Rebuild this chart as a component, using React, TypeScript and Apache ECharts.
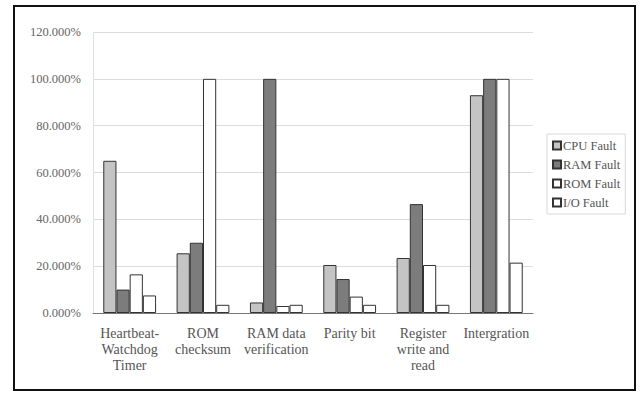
import React, { useEffect, useRef } from "react";
import * as echarts from "echarts";

const categories = [
  "Heartbeat-\nWatchdog\nTimer",
  "ROM\nchecksum",
  "RAM data\nverification",
  "Parity bit",
  "Register\nwrite and\nread",
  "Intergration",
];
const seriesNames = ["CPU Fault", "RAM Fault", "ROM Fault", "I/O Fault"];
const cpuFault = [65, 25.5, 4.5, 20.5, 23.5, 93];
const ramFault = [10, 30, 100, 14.5, 46.5, 100];
const romFault = [16.5, 100, 3, 7, 20.5, 100];
const ioFault = [7.5, 3.5, 3.5, 3.5, 3.5, 21.5];
const yTicks = [0, 20, 40, 60, 80, 100, 120];

const colors = ["#c4c4c4", "#7c7c7c", "#ffffff", "#ffffff"];
const font = "'Liberation Serif', 'Times New Roman', serif";

export default function App() {
  const ref = useRef<HTMLDivElement>(null);
  useEffect(() => {
    if (!ref.current) return;
    const chart = echarts.init(ref.current, null, { renderer: "svg" });
    const values = [cpuFault, ramFault, romFault, ioFault];
    chart.setOption({
      animation: false,
      backgroundColor: "#ffffff",
      graphic: [
        {
          type: "rect",
          shape: { x: 14, y: 6, width: 621, height: 384 },
          style: { fill: "none", stroke: "#111", lineWidth: 2 },
          silent: true,
        },
      ],
      grid: { left: 93, right: 108, top: 32, bottom: 80 },
      legend: {
        orient: "vertical",
        left: 547,
        top: 134,
        width: 80,
        itemWidth: 8,
        itemHeight: 8,
        itemGap: 6,
        padding: [5, 5, 5, 5],
        borderColor: "#d8d8d8",
        borderWidth: 1,
        icon: "rect",
        data: seriesNames,
        textStyle: { fontFamily: font, fontSize: 12.5, color: "#555", padding: [0, 0, 0, -3] },
      },
      xAxis: {
        type: "category",
        data: categories,
        axisTick: { show: false },
        axisLine: { lineStyle: { color: "#777" } },
        axisLabel: {
          fontFamily: font,
          fontSize: 14,
          color: "#555",
          lineHeight: 16,
          margin: 12,
          interval: 0,
        },
        splitLine: { show: false },
      },
      yAxis: {
        type: "value",
        min: 0,
        max: 120,
        interval: 20,
        axisLine: { show: true, lineStyle: { color: "#e0e0e0" } },
        axisTick: { show: false },
        axisLabel: {
          fontFamily: font,
          fontSize: 12.5,
          color: "#666",
          margin: 12,
          formatter: (v: number) => (yTicks.includes(v) ? v.toFixed(3) + "%" : ""),
        },
        splitLine: { lineStyle: { color: "#dcdcdc" } },
      },
      series: seriesNames.map((name, i) => ({
        name,
        type: "bar",
        data: values[i],
        barGap: "0%",
        barCategoryGap: "28%",
        itemStyle: { color: colors[i], borderColor: "#333", borderWidth: 1 },
      })),
    });
    return () => chart.dispose();
  }, []);
  return (
    <div
      ref={ref}
      style={{ position: "absolute", left: 0, top: 0, width: 641, height: 393 }}
    />
  );
}
